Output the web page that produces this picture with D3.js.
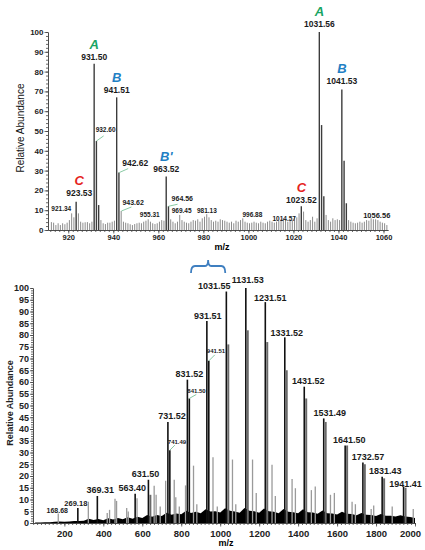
<!DOCTYPE html>
<html>
<head>
<meta charset="utf-8">
<script src="https://cdn.jsdelivr.net/npm/d3@7"></script>
<style>
body { margin: 0; background: #fff; }
svg { display: block; font-family: "Liberation Sans", Arial, sans-serif; }
</style>
</head>
<body>
<div id="chart"></div>
<script>
// ---- top spectrum (zoom 911-1062) ----
// one line per nominal mass, starting at m/z 912
const topStart = 912;
const topHeights = [
	4, 3.7, 2.5, 3.4, 2.5, 3.4, 2.9, 3.7, 5, 8.4,
	6.4, 14.3, 8.4, 4.2, 3.7, 3.9, 4, 3.4, 4.2, 84,
	45, 12.6, 5, 3.4, 3, 3.7, 3.7, 4.2, 4.7, 67,
	29, 9.6, 4.2, 3.7, 3.4, 2.9, 2.5, 3, 3.4, 3.7,
	3.4, 4.2, 4.7, 5.4, 4.2, 3.4, 3, 3.4, 4.2, 5,
	4.7, 27, 12, 5.4, 4.2, 3.4, 4.2, 7.6, 5, 4.2,
	3.7, 3.4, 4.2, 5, 4.7, 5.4, 4.2, 5.9, 6.7, 8,
	6.4, 5, 4.2, 4.7, 4.2, 5.4, 5, 4.7, 4.2, 3.7,
	4.2, 3.4, 4.7, 4.2, 5, 5.9, 4.2, 3.7, 3.4, 3.7,
	4.2, 3.7, 3.4, 4.2, 3.7, 3.4, 4.2, 4.7, 4.2, 3.7,
	4.2, 4.7, 5.4, 5.9, 4.7, 4.2, 5.4, 5, 7, 6.4,
	8.4, 12, 9.3, 5, 4.2, 5, 6.7, 4.2, 5.9, 100,
	53, 17, 7.6, 5, 4.2, 5.9, 5, 5.4, 5, 71,
	35, 13.5, 5, 4.2, 3.7, 3.4, 3.7, 4.2, 3.7, 4.2,
	5, 4.7, 5.9, 5.4, 5.4, 5, 4.2, 3.7, 3.4, 2.5
];
const topLabelMz = [921.34, 923.53, 931.50, 932.60, 941.51, 942.62, 943.62, 955.31, 963.52, 964.56,
	969.45, 981.13, 996.88, 1014.57, 1023.52, 1031.56, 1041.53, 1056.56];
const topTagMz = [923.53, 931.50, 941.51, 963.52, 1023.52, 1031.56, 1041.53];
const topTagText = ["C", "A", "B", "B'", "C", "A", "B"];

// ---- bottom spectrum (full range) ----
const mainMz = [269.18, 369.31, 563.40, 631.50, 641.5, 731.52, 741.49, 831.52, 841.50, 931.51,
	941.51, 1031.55, 1041.5, 1131.53, 1141.5, 1231.51, 1241.5, 1331.52, 1341.5, 1431.52,
	1441.5, 1531.49, 1541.5, 1641.50, 1651.5, 1732.57, 1742.5, 1831.43, 1841.5, 1941.41, 1951.5];
const mainH = [6.4, 11.5, 12.4, 18.4, 12, 43, 31, 61, 53, 86,
	69, 98.5, 76, 100, 82, 94, 77, 79, 65, 58,
	53, 44.5, 43, 33, 33, 25.7, 25, 19.7, 19, 15.5, 15];
const grayMz = [168.68, 323, 420, 432, 460, 468, 520, 528, 573, 661,
	671, 692, 720, 764, 772, 790, 822, 863, 880, 963,
	985, 1063, 1080, 1166, 1185, 1266, 1283, 1369, 1386, 1468,
	1488, 1566, 1586, 1677, 1694, 1775, 1788, 1883, 1991];
const grayH = [4, 9, 4.3, 5.6, 10.3, 9.4, 6.4, 4.9, 10.5, 15.8,
	12, 7, 18, 18.4, 11, 7, 16, 24.4, 8, 28,
	7, 27, 8, 27, 12.8, 24.8, 11.5, 18.7, 14.8, 14,
	15.5, 12, 12.8, 9, 8, 6, 7.5, 7, 6];
// baseline chemical noise envelope
const grassMz = [50, 75, 100, 125, 150, 175, 200, 225, 250, 275, 300, 325, 350, 375, 400, 425, 450, 475,
	500, 525, 550, 575, 600, 625, 650, 675, 700, 725, 750, 775, 800, 825, 850, 875, 900, 925, 950, 975,
	1000, 1025, 1050, 1075, 1100, 1125, 1150, 1175, 1200, 1225, 1250, 1275, 1300, 1325, 1350, 1375,
	1400, 1425, 1450, 1475, 1500, 1525, 1550, 1575, 1600, 1625, 1650, 1675, 1700, 1725, 1750, 1775,
	1800, 1825, 1850, 1875, 1900, 1925, 1950, 1975, 2000];
const grassH = [0.2, 0.2, 0.3, 0.3, 0.5, 0.6, 0.5, 0.6, 0.8, 0.9, 1.0, 1.8, 1.3, 1.7, 1.2, 2.0, 1.5, 2.1,
	1.6, 2.4, 1.8, 2.7, 2.1, 3.4, 2.7, 3.4, 3.0, 4.4, 3.5, 4.0, 3.7, 5.2, 4.3, 4.8, 4.1, 5.8, 4.9, 5.0,
	4.5, 6.3, 5.2, 4.9, 4.4, 6.4, 5.2, 5.0, 4.4, 6.2, 5.0, 4.8, 4.2, 6.0, 4.8, 4.6,
	4.1, 5.8, 4.6, 4.5, 3.9, 5.3, 4.1, 4.0, 3.6, 4.8, 3.9, 3.8, 3.3, 4.3, 3.5, 3.4,
	3.0, 3.8, 3.1, 3.1, 2.8, 3.3, 2.8, 2.6, 2.1];
const bottomLabelMz = [168.68, 269.18, 369.31, 563.40, 631.50, 731.52, 741.49, 831.52, 841.50, 931.51,
	941.51, 1031.55, 1131.53, 1231.51, 1331.52, 1431.52, 1531.49, 1641.50, 1732.57, 1831.43, 1941.41];
const bracketMz = [850, 1026];

// ---- layout / style ----
const W = 425, H = 550;
const tagColor = {"A": "#17a463", "B": "#1f80c4", "B'": "#1f80c4", "C": "#e5231d"};
const green = "#7cc49a";
const fmt = d3.format(".2f");

// label offsets (px) relative to peak top
const topLayout = {
	"921.34": {dx: -10, dy: -2, fs: 6.5},
	"923.53": {dx: 3, dy: -5.5, fs: 8.5},
	"931.50": {dx: 0, dy: -3.5, fs: 8.5},
	"932.60": {dx: -1, dy: -9, fs: 6.5, lead: [7, -5]},
	"941.51": {dx: 0, dy: -4, fs: 8.5},
	"942.62": {dx: 3, dy: -7, fs: 8.5, lead: [9, -4]},
	"943.62": {dx: 1, dy: -6, fs: 7, lead: [10, -4]},
	"955.31": {dx: 2, dy: -2.5, fs: 6.5},
	"963.52": {dx: 0, dy: -4.5, fs: 8.5},
	"964.56": {dx: 3, dy: -5, fs: 7, lead: [9, -2]},
	"969.45": {dx: 2, dy: -2, fs: 6.5},
	"981.13": {dx: 1, dy: -1.5, fs: 6.5},
	"996.88": {dx: 11, dy: -3, fs: 6.5},
	"1014.57": {dx: 3, dy: 2, fs: 6.5},
	"1023.52": {dx: 0, dy: -3, fs: 8.5},
	"1031.56": {dx: 0, dy: -5, fs: 8.5},
	"1041.53": {dx: 0, dy: -5, fs: 8.5},
	"1056.56": {dx: 1, dy: -1.5, fs: 7.5}
};
const bottomLayout = {
	"168.68": {dx: -1, dy: -1, fs: 7},
	"269.18": {dx: -2, dy: -2, fs: 7.5},
	"369.31": {dx: 3, dy: -3, fs: 9},
	"563.40": {dx: -3, dy: -3, fs: 9},
	"631.50": {dx: -3, dy: -3, fs: 9},
	"731.52": {dx: 4, dy: -3, fs: 9},
	"741.49": {dx: -2, dy: -6, fs: 6, lead: [5, -5]},
	"831.52": {dx: 2, dy: -3, fs: 9},
	"841.50": {dx: -2, dy: -5, fs: 6, lead: [7, -4]},
	"931.51": {dx: 1, dy: -2, fs: 9},
	"941.51": {dx: -2, dy: -8, fs: 6, lead: [6, -6]},
	"1031.55": {dx: -12, dy: -3, fs: 9},
	"1131.53": {dx: 2, dy: -5, fs: 9},
	"1231.51": {dx: 5, dy: -1.5, fs: 9},
	"1331.52": {dx: 2, dy: -1, fs: 9},
	"1431.52": {dx: 4, dy: -3, fs: 9},
	"1531.49": {dx: 6, dy: -2, fs: 9},
	"1641.50": {dx: 4, dy: -2, fs: 9},
	"1732.57": {dx: 5, dy: -3, fs: 9},
	"1831.43": {dx: 3, dy: -3, fs: 9},
	"1941.41": {dx: 2, dy: 0, fs: 9}
};

const svg = d3.select("#chart").append("svg")
	.attr("width", W)
	.attr("height", H);

function styleAxis(g, fs) {
	g.selectAll("path, line").attr("stroke", "#444").attr("stroke-width", 0.8);
	g.selectAll("text")
		.attr("fill", "#222")
		.style("font-size", fs + "px")
		.style("font-weight", "bold");
}

// peak labels, optional leader line and letter tag
function drawLabels(g, mzList, layout, x, y, heightOf, tags) {
	mzList.forEach(function(mz) {
		const t = fmt(mz);
		const L = layout[t];
		const px = x(mz), py = y(heightOf(mz));
		const tx = px + L.dx, ty = py + L.dy;
		if (L.lead) {
			g.append("line")
				.attr("x1", px).attr("y1", py)
				.attr("x2", px + L.lead[0]).attr("y2", py + L.lead[1])
				.attr("stroke", green).attr("stroke-width", 0.9);
		}
		g.append("text")
			.attr("x", tx).attr("y", ty)
			.attr("text-anchor", L.lead ? "start" : "middle")
			.attr("fill", "#1a1a1a")
			.style("font-size", L.fs + "px")
			.style("font-weight", "bold")
			.text(t);
		if (tags) {
			const i = tags.mz.indexOf(mz);
			if (i >= 0) {
				g.append("text")
					.attr("x", tx).attr("y", ty - 11)
					.attr("text-anchor", "middle")
					.attr("fill", tagColor[tags.text[i]])
					.style("font-size", "13px")
					.style("font-weight", "bold")
					.style("font-style", "italic")
					.text(tags.text[i]);
			}
		}
	});
}

// ================= TOP PANEL =================
const xTop = d3.scaleLinear().domain([911, 1062]).range([48, 388]);
const yTop = d3.scaleLinear().domain([0, 100]).range([230, 32]);
const gTop = svg.append("g");

const topPeaks = topHeights.map(function(h, i) { return {mz: topStart + i + 0.5, h: h}; });

gTop.selectAll(".tp")
	.data(topPeaks)
	.join("line")
	.attr("class", "tp")
	.attr("x1", d => xTop(d.mz)).attr("x2", d => xTop(d.mz))
	.attr("y1", yTop(0)).attr("y2", d => yTop(d.h))
	.attr("stroke", d => d.h > 10 ? "#3c3c3c" : "#8c8c8c")
	.attr("stroke-width", d => d.h > 10 ? 1.4 : 1);

// axes
gTop.append("g")
	.attr("transform", `translate(0,${yTop(0)})`)
	.call(d3.axisBottom(xTop).tickValues(d3.range(912, 1062, 2)).tickSize(2).tickSizeOuter(0).tickFormat(""))
	.call(g => styleAxis(g, 7.5));
gTop.append("g")
	.attr("transform", `translate(0,${yTop(0)})`)
	.call(d3.axisBottom(xTop).tickValues(d3.range(920, 1061, 20)).tickSize(3.5).tickSizeOuter(0).tickPadding(1.5).tickFormat(d3.format("d")))
	.call(g => styleAxis(g, 7.5));
gTop.append("g")
	.attr("transform", `translate(${xTop.range()[0]},0)`)
	.call(d3.axisLeft(yTop).tickValues(d3.range(0, 101, 2)).tickSize(2).tickSizeOuter(0).tickFormat(""))
	.call(g => styleAxis(g, 8));
gTop.append("g")
	.attr("transform", `translate(${xTop.range()[0]},0)`)
	.call(d3.axisLeft(yTop).tickValues(d3.range(0, 101, 10)).tickSize(3.5).tickSizeOuter(0).tickPadding(1))
	.call(g => styleAxis(g, 8));

gTop.append("text")
	.attr("x", 222).attr("y", 250)
	.attr("text-anchor", "middle")
	.style("font-size", "9px").style("font-weight", "bold")
	.text("m/z");
gTop.append("text")
	.attr("transform", "translate(24,128) rotate(-90)")
	.attr("text-anchor", "middle")
	.style("font-size", "10px")
	.attr("fill", "#111")
	.text("Relative Abundance");

drawLabels(gTop, topLabelMz, topLayout, xTop, yTop,
	mz => topHeights[Math.floor(mz) - topStart],
	{mz: topTagMz, text: topTagText});

// ================= BOTTOM PANEL =================
const xBot = d3.scaleLinear().domain([39, 2000]).range([33, 415]);
const yBot = d3.scaleLinear().domain([0, 100]).range([523, 288]);
const gBot = svg.append("g");

// noise floor
gBot.append("path")
	.datum(grassMz.map((m, i) => ({mz: m, h: grassH[i]})))
	.attr("d", d3.area()
		.x(d => xBot(d.mz))
		.y0(yBot(0))
		.y1(d => yBot(d.h)))
	.attr("fill", "#000");

gBot.selectAll(".gp")
	.data(grayMz.map((m, i) => ({mz: m, h: grayH[i]})))
	.join("line")
	.attr("class", "gp")
	.attr("x1", d => xBot(d.mz)).attr("x2", d => xBot(d.mz))
	.attr("y1", yBot(0)).attr("y2", d => yBot(d.h))
	.attr("stroke", "#9a9a9a")
	.attr("stroke-width", 1.3);

gBot.selectAll(".mp")
	.data(mainMz.map((m, i) => ({mz: m, h: mainH[i], lab: bottomLabelMz.indexOf(m) >= 0})))
	.join("line")
	.attr("class", "mp")
	.attr("x1", d => xBot(d.mz)).attr("x2", d => xBot(d.mz))
	.attr("y1", yBot(0)).attr("y2", d => yBot(d.h))
	.attr("stroke", d => d.lab ? "#111" : "#6a6a6a")
	.attr("stroke-width", d => d.lab ? 1.6 : 2);

// axes
gBot.append("g")
	.attr("transform", `translate(0,${yBot(0)})`)
	.call(d3.axisBottom(xBot).tickValues(d3.range(40, 2001, 20)).tickSize(2).tickSizeOuter(0).tickFormat(""))
	.call(g => styleAxis(g, 9.5));
const xAxBot = gBot.append("g")
	.attr("transform", `translate(0,${yBot(0)})`)
	.call(d3.axisBottom(xBot).tickValues(d3.range(200, 2001, 200)).tickSize(3.5).tickSizeOuter(0).tickPadding(4).tickFormat(d3.format("d")))
	.call(g => styleAxis(g, 9.5));
xAxBot.selectAll(".tick text").filter(d => d === 2000).attr("dx", -5);

gBot.append("g")
	.attr("transform", `translate(${xBot.range()[0]},0)`)
	.call(d3.axisLeft(yBot).tickValues(d3.range(0, 101, 1)).tickSize(2).tickSizeOuter(0).tickFormat(""))
	.call(g => styleAxis(g, 9));
gBot.append("g")
	.attr("transform", `translate(${xBot.range()[0]},0)`)
	.call(d3.axisLeft(yBot).tickValues(d3.range(0, 101, 5)).tickSize(3).tickSizeOuter(0).tickPadding(1))
	.call(g => styleAxis(g, 9));

gBot.append("text")
	.attr("x", 226).attr("y", 546)
	.attr("text-anchor", "middle")
	.style("font-size", "9px").style("font-weight", "bold")
	.text("m/z");
gBot.append("text")
	.attr("transform", "translate(13,403) rotate(-90)")
	.attr("text-anchor", "middle")
	.style("font-size", "9px").style("font-weight", "bold")
	.attr("fill", "#222")
	.text("Relative Abundance");

const allBot = mainMz.map((m, i) => [m, mainH[i]]).concat(grayMz.map((m, i) => [m, grayH[i]]));
drawLabels(gBot, bottomLabelMz, bottomLayout, xBot, yBot,
	mz => allBot.find(p => p[0] === mz)[1], null);

// curly bracket marking the zoomed region
const bx0 = xBot(bracketMz[0]), bx1 = xBot(bracketMz[1]), bm = (bx0 + bx1) / 2;
const br = d3.path();
br.moveTo(bx0, 273);
br.quadraticCurveTo(bx0, 266, bx0 + 4, 266);
br.lineTo(bm - 3, 266);
br.quadraticCurveTo(bm, 266, bm, 260);
br.quadraticCurveTo(bm, 266, bm + 3, 266);
br.lineTo(bx1 - 4, 266);
br.quadraticCurveTo(bx1, 266, bx1, 273);
gBot.append("path")
	.attr("d", br.toString())
	.attr("fill", "none")
	.attr("stroke", "#3f7fc0")
	.attr("stroke-width", 1.8);
</script>
</body>
</html>
